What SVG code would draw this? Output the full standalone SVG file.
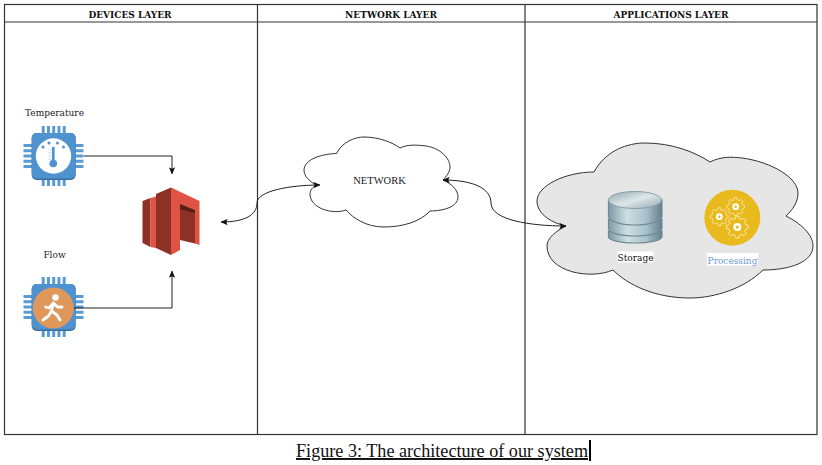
<svg xmlns="http://www.w3.org/2000/svg" xmlns:xlink="http://www.w3.org/1999/xlink" width="822" height="465" viewBox="0 0 822 465">
<style>
.frame{fill:none;stroke:#333;stroke-width:1.2}
.hdr{font-family:"DejaVu Serif",serif;font-size:9px;font-weight:bold;fill:#111;text-anchor:middle}
.lbl{font-family:"DejaVu Serif",serif;font-size:9px;fill:#222;text-anchor:middle}
.cloud{stroke:#333;stroke-width:1}
.conn{fill:none;stroke:#222;stroke-width:1}
.pin{fill:#5A9BD5}
.body{fill:#4E93D0}
.gear{fill:none;stroke:#fff;stroke-width:.6}
.disk{fill:url(#dbg);stroke:#6f8a96;stroke-width:1.2}
</style>
<defs>
<marker id="arr" viewBox="0 0 10 10" refX="9.5" refY="5" markerWidth="7" markerHeight="7" markerUnits="userSpaceOnUse" orient="auto-start-reverse"><path d="M0,0.5 L10,5 L0,9.5 L2,5 Z" fill="#111"/></marker>
<linearGradient id="dbg" x1="0" x2="1" y1="0" y2="0"><stop offset="0" stop-color="#7d9aa6"/><stop offset=".35" stop-color="#cfdfe4"/><stop offset=".7" stop-color="#a9c1ca"/><stop offset="1" stop-color="#64808c"/></linearGradient>
<linearGradient id="dbt" x1="0" x2="1" y1="0" y2="1"><stop offset="0" stop-color="#8fa5ae"/><stop offset=".5" stop-color="#dde7ea"/><stop offset="1" stop-color="#93a9b2"/></linearGradient>
<g id="chip">
<path class="pin" d="M-30.2,-12h60v3h-60zM-30.2,-6.75h60v3h-60zM-30.2,-1.5h60v3h-60zM-30.2,3.75h60v3h-60zM-30.2,9h60v3h-60z"/>
<path class="pin" d="M-12,-30h3v60h-3zM-6.75,-30h3v60h-3zM-1.5,-30h3v60h-3zM3.75,-30h3v60h-3zM9,-30h3v60h-3z"/>
<rect x="-22" y="-23" width="44" height="47" rx="5" fill="#3a6ea5"/>
<rect x="-22" y="-23" width="44" height="45.5" rx="5" class="body"/>
</g>
<polygon id="gearp" class="gear" points="7.5,-2.15 9.9,-1.39 9.9,1.39 7.5,2.15 6.82,3.78 7.98,6.02 6.02,7.98 3.78,6.82 2.15,7.5 1.39,9.9 -1.39,9.9 -2.15,7.5 -3.78,6.82 -6.02,7.98 -7.98,6.02 -6.82,3.78 -7.5,2.15 -9.9,1.39 -9.9,-1.39 -7.5,-2.15 -6.82,-3.78 -7.98,-6.02 -6.02,-7.98 -3.78,-6.82 -2.15,-7.5 -1.39,-9.9 1.39,-9.9 2.15,-7.5 3.78,-6.82 6.02,-7.98 7.98,-6.02 6.82,-3.78"/>
</defs>
<rect width="822" height="465" fill="#fff"/>
<g id="frame">
<rect class="frame" x="4.5" y="4.5" width="812.5" height="430"/>
<path class="frame" d="M4.5,22H817M257.5,4.5V434.5M525,4.5V434.5"/>
<text class="hdr" x="130" y="18">DEVICES LAYER</text>
<text class="hdr" x="391" y="18">NETWORK LAYER</text>
<text class="hdr" x="671" y="18">APPLICATIONS LAYER</text>
</g>
<g id="apps-cloud">
<path class="cloud" fill="#e6e6e6" d="M594,172 C606,150 628,143 645,143 C672,143 695,152 710,162 C722,156 732,157 742,158 C772,162 798,178 798,193 C798,203 792,210 786,216 C800,223 813,234 813,246 C813,262 790,270 763,270 C745,288 715,298 690,298 C655,298 628,285 613,270 C590,280 547,272 547,246 C547,238 556,231 566,226 C548,222 537,212 537,201 C537,186 565,172 594,172 Z"/>
</g>
<g id="network-cloud">
<path class="cloud" fill="#fff" d="M336.5,153.5 C342,142 355,137 364,137 C378,137 392,142 400,148 C408,144 418,145 426,146 C440,148 450,158 450,167 C450,172 446,177 443,180 C452,184 458,190 458,197 C458,207 443,211 430,211 C420,222 402,227 384,227 C366,227 353,218 346,210 C332,215 310,208 310,194 C310,190 313,187 316,185 C309,181 304,176 304,170 C304,160 320,154 336.5,153.5 Z"/>
<text x="379.5" y="184" font-family="Liberation Serif,serif" font-size="10.5" fill="#222" text-anchor="middle">NETWORK</text>
</g>
<g id="temperature">
<text class="lbl" x="54.5" y="115.5">Temperature</text>
<use href="#chip" x="53.7" y="156"/>
<circle cx="53.5" cy="156" r="17.7" fill="#fff"/>
<g fill="#4E93D0">
<circle cx="43" cy="147" r="1.5"/><circle cx="49" cy="143" r="1.5"/><circle cx="57.5" cy="143" r="1.5"/><circle cx="63.5" cy="147" r="1.5"/>
<rect x="52" y="147" width="2.6" height="14"/><circle cx="53.3" cy="163.5" r="3.8"/>
<path d="M48.5,150h3M48.5,153h3M48.5,156h3M48.5,159h3" stroke="#a9cbe8" stroke-width=".8"/>
</g>
</g>
<g id="flow">
<text class="lbl" x="54.5" y="258">Flow</text>
<use href="#chip" x="53.7" y="307"/>
<circle cx="53.3" cy="308" r="20.5" fill="#E0975A"/>
<circle cx="55.5" cy="297.5" r="3.3" fill="#fff"/>
<path d="M53.5,303 L49,308 L45.5,307 M53.5,303 L57.5,307 L62,307 M53.5,303 L51.5,311 L57,315 L60,320 M51.5,311 L48.5,316 L43,320" fill="none" stroke="#fff" stroke-width="2.8" stroke-linecap="round" stroke-linejoin="round"/>
</g>
<g id="gateway">
<polygon points="142.5,201 150.5,198 150.5,247 142.5,243" fill="#8C3123"/>
<polygon points="150.5,198 156,196.5 156,248 150.5,247" fill="#E05243"/>
<polygon points="156,194 171,187.5 171,255 156,248" fill="#8C3123"/>
<polygon points="171,187.5 199.5,201 199.5,245 195,243.5 195,210 180,204 180,250 171,255" fill="#E05243"/>
<polygon points="180,204 195,210 195,243.5 180,240" fill="#8C3123"/>
<polygon points="180,204 195,210 195,213 180,209" fill="#5B1F15"/>
</g>
<g id="storage">
<path class="disk" d="M608.5,231 V237 C608.5,240 620,243 635,243 C650,243 662,240 662,237 V231 Z"/>
<path class="disk" d="M608.5,219 V228 C608.5,233 620,236 635,236 C650,236 662,233 662,228 V219 Z"/>
<path class="disk" d="M608.5,200 V216 C608.5,221 620,225 635,225 C650,225 662,221 662,216 V200 Z"/>
<ellipse cx="635" cy="200" rx="26.5" ry="8.5" fill="url(#dbt)" stroke="#8aa0aa"/>
<rect x="617.5" y="251.5" width="36" height="11" fill="#fff"/>
<text class="lbl" x="635.5" y="261" style="fill:#111">Storage</text>
</g>
<g id="processing">
<circle cx="732.3" cy="217.7" r="28" fill="#E9BA1E"/>
<use href="#gearp" transform="translate(719.3,216.7) scale(.9)"/>
<use href="#gearp" transform="translate(735.7,206.7) scale(.9)"/>
<use href="#gearp" transform="translate(737.3,227) scale(1.1)"/>
<g fill="#fff"><circle cx="719.3" cy="216.7" r="3.4"/><circle cx="735.7" cy="206.7" r="3.4"/><circle cx="737.3" cy="227" r="4"/></g>
<g fill="#E9BA1E"><circle cx="719.3" cy="216.7" r="1.3"/><circle cx="735.7" cy="206.7" r="1.3"/><circle cx="737.3" cy="227" r="1.6"/></g>
<rect x="707" y="253" width="51" height="12.5" fill="#fff"/>
<text class="lbl" x="732.5" y="264" style="fill:#6F9BD8">Processing</text>
</g>
<g id="connectors">
<path class="conn" marker-end="url(#arr)" d="M84,156H172V174"/>
<path class="conn" marker-end="url(#arr)" d="M74,308H172V271"/>
<path class="conn" marker-start="url(#arr)" marker-end="url(#arr)" d="M221,222 C245,222 257,215 257,203 C257,191 290,185 320,185"/>
<path class="conn" marker-start="url(#arr)" marker-end="url(#arr)" d="M443,180 C470,180 491,187 491,203 C491,220 530,226 566,226"/>
</g>
<g id="caption">
<text x="296" y="457" font-family="Liberation Serif,serif" font-size="19.5" fill="#111" text-decoration="underline" textLength="292" lengthAdjust="spacingAndGlyphs">Figure 3: The architecture of our system</text>
<rect x="589" y="440" width="2" height="21" fill="#000"/>
</g>
</svg>
